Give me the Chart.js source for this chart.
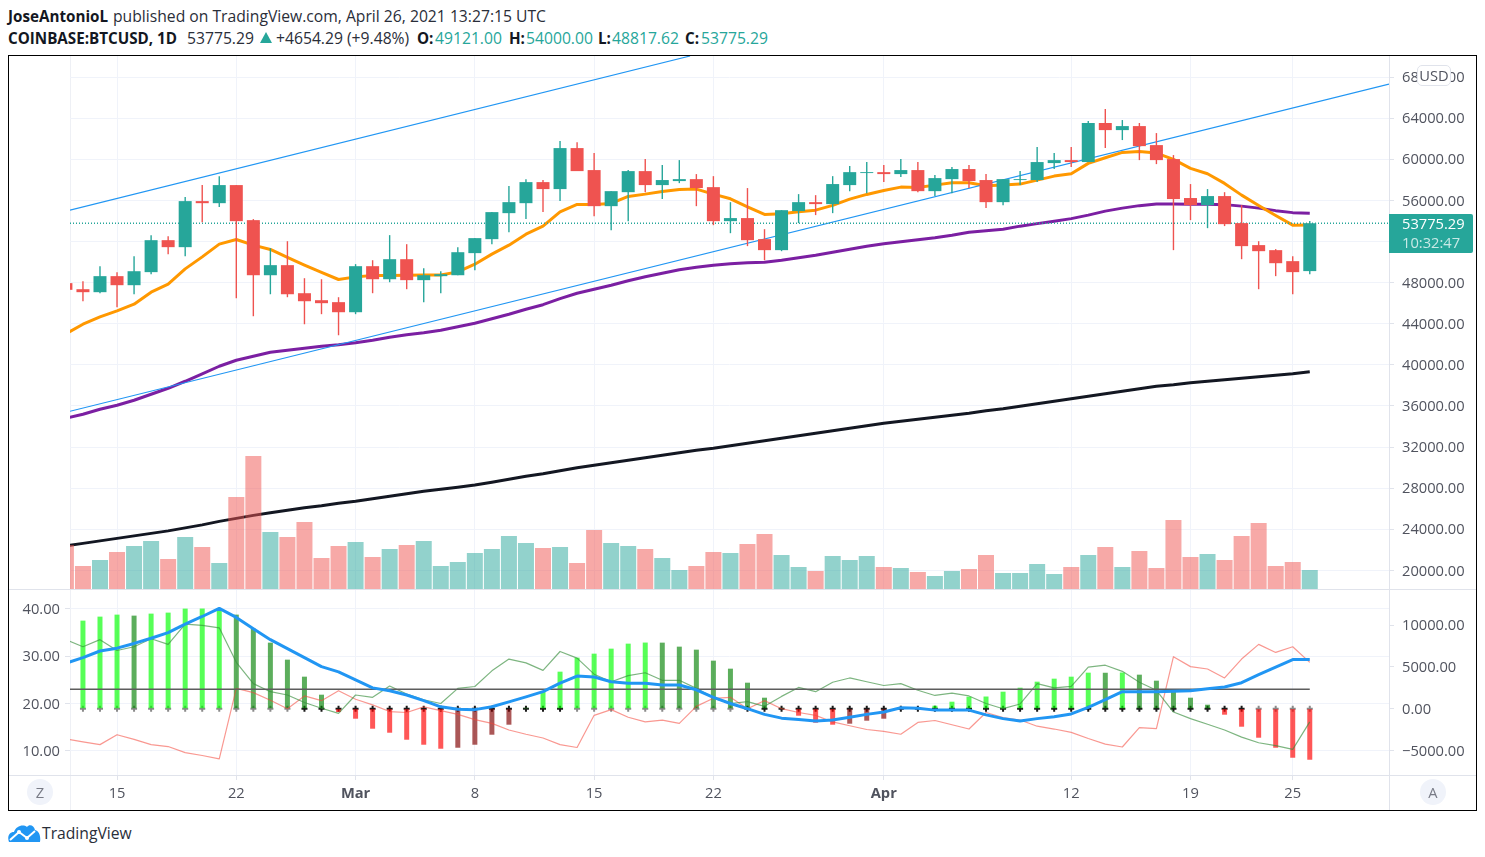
<!DOCTYPE html>
<html><head><meta charset="utf-8">
<script src="https://cdn.jsdelivr.net/npm/chart.js@4/dist/chart.umd.min.js"></script>
<style>
html,body{margin:0;padding:0;background:#fff;width:1485px;height:857px;overflow:hidden;font-family:"Open Sans",sans-serif;color:#131722}
.hd{position:absolute;white-space:nowrap;font-size:15.7px;line-height:20px;color:#2a2e39}
.hd b{font-size:15.2px;font-weight:700;color:#131722}
.t{color:#26a69a}
#frame{position:absolute;left:8px;top:55px;width:1467px;height:754px;border:1px solid #000}
.l{position:absolute;background:#e0e3eb}
canvas{position:absolute;z-index:2}
#priceBox{position:absolute;z-index:3;left:1389px;top:214px;width:84px;height:39px;background:#26a69a;color:#fff;font-size:14.7px;line-height:19px;border-radius:0 2px 2px 0}
#priceBox div{padding-left:13px}
#priceBox div+div{color:#c8e9e6}
#usd{position:absolute;z-index:3;left:1417px;top:65px;width:32px;height:19px;background:#fff;border:1px solid #e0e3eb;border-radius:5px;font-size:14.7px;line-height:19px;text-align:center;color:#50535e}
.c{position:absolute;z-index:3;width:26px;height:26px;border-radius:50%;background:#f0f3fa;color:#787b86;font-size:14.7px;line-height:26px;text-align:center}
#tv{position:absolute;left:42px;top:823px;font-size:15.7px;line-height:20px;color:#2a2e39}
svg{position:absolute}
#tri{position:absolute;left:260px;top:32px;width:0;height:0;border-left:6px solid transparent;border-right:6px solid transparent;border-bottom:11px solid #26a69a}
</style></head><body>
<div class="hd" style="left:8px;top:6px"><b>JoseAntonioL</b></div>
<div class="hd" style="left:113px;top:6px">published on TradingView.com, April 26, 2021 13:27:15 UTC</div>
<div class="hd" style="left:8px;top:28px"><b>COINBASE:BTCUSD, 1D</b></div>
<div class="hd" style="left:187px;top:28px">53775.29</div>
<div id="tri"></div>
<div class="hd" style="left:276px;top:28px">+4654.29 (+9.48%)</div>
<div class="hd" style="left:417px;top:28px"><b>O:</b></div><div class="hd t" style="left:435px;top:28px">49121.00</div>
<div class="hd" style="left:509px;top:28px"><b>H:</b></div><div class="hd t" style="left:526px;top:28px">54000.00</div>
<div class="hd" style="left:598px;top:28px"><b>L:</b></div><div class="hd t" style="left:612px;top:28px">48817.62</div>
<div class="hd" style="left:685px;top:28px"><b>C:</b></div><div class="hd t" style="left:701px;top:28px">53775.29</div>
<div id="frame"></div>
<div class="l" style="left:70px;top:56px;width:1px;height:754px;background:#eef0f5"></div>
<div class="l" style="left:1389px;top:56px;width:1px;height:754px"></div>
<div class="l" style="left:9px;top:589px;width:1467px;height:1px"></div>
<div class="l" style="left:9px;top:775px;width:1467px;height:1px"></div>
<canvas id="main" width="1467" height="533" style="left:9px;top:56px;width:1467px;height:533px"></canvas>
<canvas id="lower" width="1467" height="220" style="left:9px;top:590px;width:1467px;height:220px"></canvas>
<div id="usd">USD</div>
<div id="priceBox"><div>53775.29</div><div>10:32:47</div></div>
<div class="c" style="left:27px;top:779px">Z</div>
<div class="c" style="left:1420px;top:779px">A</div>
<svg style="left:8px;top:823px" width="33" height="20" viewBox="0 0 33 20"><path d="M1 19 C-1 14 1 9 6 9 C8 3 15 1 19 4 C21 1 26 2 27 7 C31 8 33 13 32 19 Z" fill="#2196f3"/><path d="M2 17 L11 9 L19 15 L27 8" fill="none" stroke="#fff" stroke-width="2"/><circle cx="11" cy="9" r="2" fill="#fff"/><circle cx="19" cy="15" r="2" fill="#fff"/></svg>
<div id="tv">TradingView</div>
<script>
const dates = ['Feb 12','Feb 13','Feb 14','Feb 15','Feb 16','Feb 17','Feb 18','Feb 19','Feb 20','Feb 21','Feb 22','Feb 23','Feb 24','Feb 25','Feb 26','Feb 27','Feb 28',
'Mar 1','Mar 2','Mar 3','Mar 4','Mar 5','Mar 6','Mar 7','Mar 8','Mar 9','Mar 10','Mar 11','Mar 12','Mar 13','Mar 14','Mar 15','Mar 16','Mar 17','Mar 18','Mar 19','Mar 20','Mar 21','Mar 22','Mar 23','Mar 24','Mar 25','Mar 26','Mar 27','Mar 28','Mar 29','Mar 30','Mar 31',
'Apr 1','Apr 2','Apr 3','Apr 4','Apr 5','Apr 6','Apr 7','Apr 8','Apr 9','Apr 10','Apr 11','Apr 12','Apr 13','Apr 14','Apr 15','Apr 16','Apr 17','Apr 18','Apr 19','Apr 20','Apr 21','Apr 22','Apr 23','Apr 24','Apr 25','Apr 26'];
const opens = [47950,47360,47070,48630,47750,49020,52130,51450,55930,55730,57490,54080,48720,49700,46970,46290,46100,
45120,49600,48330,50280,48240,48630,48720,50870,52230,54760,55730,57780,57100,61090,58950,55440,56800,58850,57490,57880,58070,57290,53980,54280,52230,51160,54960,55830,55640,57490,58660,
58750,58560,58950,56900,58070,59050,57980,55830,57980,57980,59630,59920,59730,63530,62840,63230,61380,60020,56230,55540,56420,53790,51650,51160,50090,49121];
const closes = [47300,47070,48630,47750,49110,52130,51450,55930,55730,57490,53980,48720,49700,46870,46190,46000,45120,
49600,48330,50280,48240,48720,48820,50960,52330,54860,55830,57780,57100,61090,58850,55440,56900,58850,57490,57980,58070,57200,53980,54280,52130,51160,55050,55830,55640,57590,58750,58750,
58560,58950,56900,58170,59050,57880,55830,58070,58070,59730,59920,59730,63530,62840,63230,61280,59920,56130,55540,56420,53690,51550,51060,49890,49020,53775.29];
const highs = [48300,48140,49600,49020,50570,52620,52520,56320,57490,58360,57490,54180,51350,52030,48430,48330,46580,
49800,50180,52620,51740,49410,49110,51450,52330,54860,57390,58070,57980,61770,61670,60600,56900,58950,60020,59440,59920,58560,58360,55830,57200,53200,55050,56610,56510,58360,59340,59730,
59440,60020,59730,58460,59240,59440,58560,58070,58850,61190,60600,61190,63720,64890,63820,63530,62550,60410,57590,57100,56800,55540,52030,51260,50570,54000];
const lows = [46800,46190,46970,45610,46870,48820,50770,50570,53880,55350,46480,44730,46870,46580,43950,44930,42880,
44930,46970,48040,47360,46100,46970,48720,49210,51740,52910,54180,54860,55930,58850,54470,53100,53980,56800,56130,57680,55440,53590,52810,51550,50180,51060,53790,54570,54760,56900,56700,
57780,58270,56800,56420,56700,57200,55250,55540,57490,57780,59050,59240,59730,61090,61870,59920,59530,51160,54080,53300,53500,50280,47360,48630,46870,48817.62];
const volumes = [13200,6900,8700,11100,12900,14400,9000,15600,12600,7800,27600,39900,17100,15600,20100,9300,12900,
14100,9600,12000,13200,14400,6900,8100,10800,12000,15900,13800,12300,12600,7800,17700,13800,12900,12000,9300,5700,6900,11100,10800,13500,16500,10200,6600,5400,9900,8700,9900,
6600,6300,5100,3900,5400,6000,10200,4800,4800,7500,4500,6600,10200,12600,6600,11400,6300,20700,9600,10500,8700,15900,19800,6900,8100,5700];
const emaShort = [43028,43953,44664,45248,45900,47069,47848,49338,50506,51743,52200,51645,51226,50448,49698,48987,48305,
48559,48695,48695,48724,48730,48740,49046,49795,50769,51645,52716,53495,54888,55608,55600,55706,56387,56611,56874,57069,57098,56610,56154,55375,54635,54694,54888,55053,55511,56124,56582,
56971,57293,57263,57487,57712,57720,57419,57487,57585,57974,58364,58588,59600,60146,60671,60769,60603,59990,59114,58588,57653,56514,55511,54537,53593,53600];
const maMid = [34800,35190,35677,36066,36553,37137,37721,38403,39133,39863,40448,40837,41227,41421,41616,41811,41957,
42152,42395,42687,42931,43125,43369,43710,44050,44489,44927,45414,45852,46436,46971,47361,47750,48189,48578,48919,49260,49503,49698,49844,49941,49990,50185,50428,50672,50964,51256,51548,
51791,51986,52181,52376,52619,52911,53057,53203,53495,53739,53982,54226,54566,54956,55248,55491,55640,55640,55630,55620,55589,55443,55248,55004,54810,54761];
const maLong = [22386,22629,22872,23116,23359,23603,23846,24138,24430,24771,25063,25355,25599,25842,26086,26280,26524,
26719,26962,27205,27449,27692,27887,28082,28306,28569,28861,29153,29396,29688,29980,30224,30467,30711,30954,31198,31441,31684,31879,32123,32366,32609,32853,33096,33340,33583,33827,34070,
34313,34508,34703,34898,35092,35287,35531,35725,35969,36212,36456,36699,36942,37186,37429,37673,37916,38062,38257,38403,38549,38695,38841,38987,39133,39328];
const squeeze = [10200,10560,11040,11280,11160,11400,11520,12000,12010,12080,11280,9600,7920,5880,3840,1680,-400,
-1200,-2400,-2880,-3720,-4320,-4800,-4680,-4320,-3120,-1920,100,2040,4440,6120,6600,7200,7800,7930,7920,7440,7080,5760,4800,3120,1320,100,-840,-1680,-1920,-1800,-1440,
-1200,-120,30,360,840,1440,1460,2040,2520,3240,3600,3840,4320,4310,4340,4080,3360,2280,1320,480,-720,-2160,-3480,-4680,-5880,-6120];
const squeezeOff = [0,1,1,1,1,1,1,1,1,1,1,1,1,1,0,0,0,
0,0,0,0,0,0,0,0,0,0,0,0,0,1,1,1,1,1,1,1,1,1,1,0,0,0,0,0,0,0,0,
0,0,0,0,0,0,0,0,0,0,0,0,0,0,0,0,0,0,0,0,0,0,1,1,1,1];
const adx = [28.5,29.7,31.1,31.7,32.7,33.8,35.0,36.8,38.4,40.1,38.2,35.8,33.5,31.6,29.7,27.8,26.7,
25.0,23.3,22.7,21.8,20.6,19.3,18.8,18.7,19.3,20.35,21.4,22.5,24.3,25.8,25.6,24.6,24.3,24.3,23.9,23.9,22.9,21.3,20.0,18.9,17.7,16.9,16.6,16.3,16.5,17.1,17.7,
18.2,19.1,19.0,18.6,18.6,18.6,17.6,16.8,16.3,16.8,17.2,17.8,19.2,20.8,22.5,22.5,22.5,22.6,22.7,23.1,23.5,24.4,26.1,27.7,29.3,29.3];
const diPlus = [33.5,32.0,33.5,31.2,32.0,33.7,32.5,36.8,36.5,36.0,28.7,24.2,22.5,21.8,20.2,19.0,17.9,
21.8,21.3,23.7,22.0,20.8,20.0,23.2,23.6,26.9,29.4,28.6,27.0,31.0,29.6,26.2,24.6,25.9,26.5,24.9,24.9,23.2,21.2,20.0,20.4,19.4,21.5,23.4,22.5,24.5,25.4,24.6,
23.8,24.2,22.8,21.7,22.2,21.6,20.0,18.9,19.9,24.2,23.3,23.6,27.7,28.1,26.8,24.5,22.8,18.2,16.8,15.6,14.4,12.9,11.7,11.1,10.3,16.1];
const diMinus = [12.5,11.9,11.3,13.4,12.4,11.3,10.9,9.6,9.0,8.3,23.2,22.3,20.7,18.9,21.6,20.6,22.7,
20.9,19.7,18.3,18.1,19.3,18.5,17.7,16.6,15.8,14.4,13.5,12.7,11.3,10.7,17.5,18.7,17.1,16.1,16.5,15.8,19.4,21.1,21.3,18.9,20.6,18.9,18.1,17.5,16.1,15.3,14.5,
14.1,13.5,16.0,16.4,15.5,14.6,18.1,17.0,16.5,15.2,14.6,13.9,12.6,11.4,10.8,14.9,14.7,29.9,27.8,27.3,25.4,29.4,32.5,30.8,32.0,28.7];
const trendUpper = [55053,70048];
const trendLower = [35482,67322];
const trendUpperEnd = 36.63;
const levelLine = 23;
const lastPrice = 53775.29;
const priceTicks = [20000,24000,28000,32000,36000,40000,44000,48000,52000,56000,60000,64000,68000];
const adxTicks = [10,20,30,40];
const squeezeTicks = [-5000,0,5000,10000];
const dayTicks = [3,10,17,24,31,38,48,59,66,72];
const dayTickLabels = ['15','22','Mar','8','15','22','Apr','12','19','25'];

const COL_UP='#26a69a',COL_DN='#ef5350',GRID='#f0f3fa',TICK='#e0e3eb',TXT='#50535e',FONT='"Open Sans",sans-serif';
const XMIN=0.24,XMAX=77.65;
const up=closes.map((c,i)=>c>=opens[i]);
const pts=a=>a.map((y,x)=>({x,y}));
const lineDs=(data,color,w,order,extra)=>Object.assign({type:'line',data,borderColor:color,borderWidth:w,pointRadius:0,tension:0,order,borderJoinStyle:'round'},extra||{});
const barDs=(data,color,w,order,yAxisID)=>({type:'bar',data,backgroundColor:color,barThickness:w,grouped:false,inflateAmount:0,borderWidth:0,order,yAxisID});
const noPad=s=>{s.paddingTop=s.paddingBottom=s.paddingLeft=s.paddingRight=0};
const fit=(w)=>({afterFit:s=>{s.width=w;noPad(s)}});
const setTicks=a=>({afterBuildTicks:s=>{s.ticks=a.map(value=>({value}))}});
const pinArea=(top,bottom,total)=>({id:'pinArea',afterLayout(chart){
  chart.chartArea.top=top;chart.chartArea.bottom=bottom;chart.chartArea.height=bottom-top;
  Object.values(chart.scales).forEach(s=>{
    if(s.axis==='y'){s.top=top;s.bottom=bottom;s.height=bottom-top}
    else{s.top=bottom;s.bottom=total;s.height=total-bottom}
    s.configure();
  });
}});
const xScale=(showLabels)=>Object.assign({type:'linear',min:XMIN,max:XMAX,offset:false,
  border:{display:false},
  grid:{display:true,color:GRID,offset:false,drawTicks:showLabels,tickLength:5,tickColor:TICK,lineWidth:1},
  ticks:{display:showLabels,autoSkip:false,maxRotation:0,padding:5,color:TXT,
    font:c=>({family:FONT,size:14.7,weight:(c.tick&&(c.tick.value===17||c.tick.value===48))?'700':'400'}),
    callback:v=>dayTickLabels[dayTicks.indexOf(v)]},
  afterFit:s=>{s.height=showLabels?35:0;noPad(s)}},setTicks(dayTicks));
const money=v=>v.toFixed(2).replace('-','\u2212');
const base={responsive:false,animation:false,events:[]};
const plugins={legend:{display:false},tooltip:{enabled:false}};

new Chart(document.getElementById('main'),{type:'bar',plugins:[pinArea(0,533,533)],
 data:{labels:dates,datasets:[
  lineDs(pts(maLong),'#131722',3,9,{yAxisID:'y'}),
  lineDs(pts(maMid),'#7b1fa2',3,8,{yAxisID:'y'}),
  lineDs(pts(emaShort),'#ff9800',3,7,{yAxisID:'y'}),
  lineDs([{x:XMIN,y:trendUpper[0]},{x:trendUpperEnd,y:trendUpper[1]}],'#2196f3',1.2,6,{yAxisID:'y'}),
  lineDs([{x:XMIN,y:trendLower[0]},{x:XMAX,y:trendLower[1]}],'#2196f3',1.2,6,{yAxisID:'y'}),
  lineDs([{x:XMIN,y:lastPrice},{x:XMAX,y:lastPrice}],'#26a69a',1.4,5,{yAxisID:'y',borderDash:[1,2]}),
  barDs(pts(volumes),up.map(u=>u?'rgba(38,166,154,.5)':'rgba(239,83,80,.5)'),16,4,'yVol'),
  barDs(lows.map((l,x)=>({x,y:[l,highs[x]]})),up.map(u=>u?COL_UP:COL_DN),1.4,3,'y'),
  barDs(opens.map((o,x)=>({x,y:[o,closes[x]]})),up.map(u=>u?COL_UP:COL_DN),13,2,'y')
 ]},
 options:{...base,plugins,layout:{padding:{left:61,top:0,right:0,bottom:0}},
  scales:{
   x:xScale(false),
   y:Object.assign({type:'linear',position:'right',min:18190,max:70050,border:{display:false},
     grid:{color:GRID,drawTicks:true,tickLength:5,tickColor:TICK},
     ticks:{autoSkip:false,padding:8,labelOffset:1,color:TXT,font:{family:FONT,size:14.7},callback:money}},fit(87),setTicks(priceTicks)),
   yVol:{type:'linear',display:false,min:0,max:159900}
  }}});

const cols=squeeze.map((v,i)=>{const p=i?squeeze[i-1]:v;
  return v>0?(v>=p?'rgba(0,255,0,.66)':'rgba(0,128,0,.64)'):(v<p?'rgba(255,0,0,.66)':'rgba(128,0,0,.66)')});

new Chart(document.getElementById('lower'),{type:'bar',plugins:[pinArea(0,185,220)],
 data:{labels:dates,datasets:[
  {type:'line',data:squeeze.map((_,x)=>({x,y:0})),showLine:false,yAxisID:'yS',order:9,pointStyle:'cross',pointRadius:3,pointBorderWidth:2,
    pointBorderColor:squeezeOff.map(o=>o?'#8a8a8a':'#1a1a1a')},
  barDs(pts(squeeze),cols,5,8,'yS'),
  lineDs(pts(diMinus),'rgba(244,67,54,.55)',1.2,5,{yAxisID:'yL'}),
  lineDs(pts(diPlus),'rgba(56,142,60,.65)',1.2,4,{yAxisID:'yL'}),
  lineDs([{x:XMIN,y:levelLine},{x:73,y:levelLine}],'#5d5d5d',1.5,3,{yAxisID:'yL'}),
  lineDs(pts(adx),'#2196f3',3,2,{yAxisID:'yL'})
 ]},
 options:{...base,plugins,layout:{padding:0},
  scales:{
   x:xScale(true),
   yL:Object.assign({type:'linear',position:'left',min:4.88,max:44,border:{display:false},
     grid:{color:GRID,drawTicks:true,tickLength:5,tickColor:TICK},
     ticks:{autoSkip:false,padding:5,labelOffset:1,color:TXT,font:{family:FONT,size:14.7},callback:money}},fit(61),setTicks(adxTicks)),
   yS:Object.assign({type:'linear',position:'right',min:-7950,max:14232,border:{display:false},
     grid:{drawOnChartArea:false,drawTicks:true,tickLength:5,tickColor:TICK},
     ticks:{autoSkip:false,padding:8,labelOffset:1,color:TXT,font:{family:FONT,size:14.7},callback:money}},fit(87),setTicks(squeezeTicks))
  }}});
</script>
</body></html>
